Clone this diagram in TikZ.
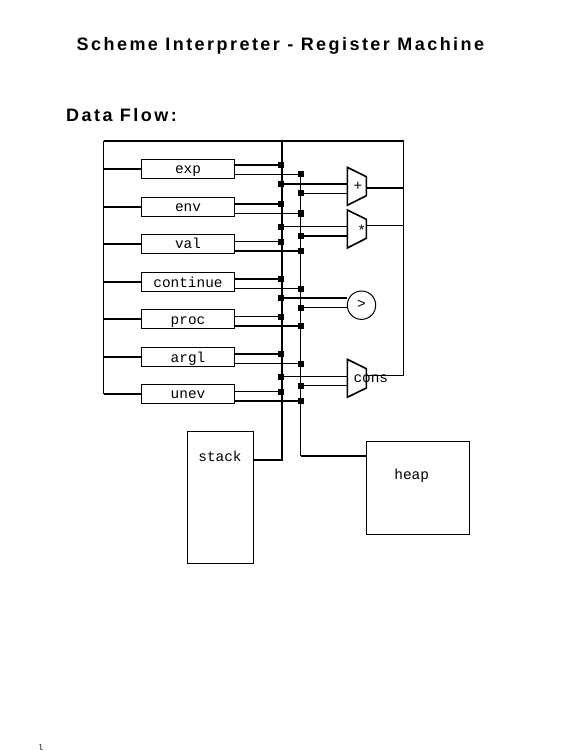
\documentclass[tikz,border=0pt]{standalone}
\usepackage{fontspec}
\usetikzlibrary{positioning,calc}
\setmonofont{Liberation Mono}
\newfontfamily\titlefont[LetterSpace=13.6]{Liberation Sans}

\begin{document}
\begin{tikzpicture}[x=1pt,y=-1pt,
    thinwire/.style={line width=1pt},
    thickwire/.style={line width=2.2pt},
    heading/.style={font=\titlefont\bfseries\fontsize{18}{20}\selectfont, inner sep=0pt},
    regbox/.style={draw, line width=1pt, minimum width=93.4pt, minimum height=19pt, inner sep=0pt, text height=10pt, text depth=0pt, font=\ttfamily\fontsize{14.4}{16}\selectfont},
    membox/.style={draw, line width=1pt, inner sep=0pt},
    oplabel/.style={inner sep=0pt, font=\ttfamily\fontsize{14.4}{16}\selectfont},
    mux/.style={line width=1.6pt, line join=miter},
    joint/.style={fill=black, inner sep=0pt, minimum size=6pt}]
    \useasboundingbox (0,0) rectangle (564,751);

    \node[heading, anchor=base west] (title) at (76.5,51) {Scheme Interpreter - Register Machine};
    \node[heading, anchor=base west] (flow) at (66,122) {Data Flow:};
    \node[inner sep=0pt, anchor=base, font=\ttfamily\fontsize{8}{9}\selectfont] (pagemark) at (40.7,750) {l};

    \node[regbox] (exp) at (188,168.8) {exp};
    \node[regbox] (env) at (188,206.8) {env};
    \node[regbox] (val) at (188,243.9) {val};
    \node[regbox] (continue) at (188,282) {continue};
    \node[regbox] (proc) at (188,319) {proc};
    \node[regbox] (argl) at (188,357) {argl};
    \node[regbox] (unev) at (188,393.8) {unev};

    \node[membox, minimum width=66pt, minimum height=131.6pt] (stack) at (220.3,497.5) {};
    \node[oplabel] (stacktext) at (220,456) {stack};
    \node[membox, minimum width=103pt, minimum height=93pt] (heap) at (417.8,487.8) {};
    \node[oplabel] (heaptext) at (411.7,475.5) {heap};

    \coordinate (railNW) at (103.5,141);
    \coordinate (railSW) at (103.5,394);
    \coordinate (railNE) at (403.5,141);
    \coordinate (railSE) at (403.5,375.5);
    \coordinate (busAtop) at (282,141);
    \coordinate (busAend) at (282,460);
    \coordinate (busBend) at (300.5,456);

    \coordinate (addin) at (347.3,186.5);
    \coordinate (addout) at (366.3,188);
    \coordinate (mulin) at (347.3,229);
    \coordinate (mulout) at (366.3,225.5);
    \coordinate (consin) at (347.3,378);
    \coordinate (consout) at (366.3,375.5);

    \node[joint] (expA) at (281,164.7) {};
    \node[joint] (expB) at (301,174.5) {};
    \node[joint] (addA) at (281,183.7) {};
    \node[joint] (addB) at (301,193.5) {};
    \node[joint] (envA) at (281,204) {};
    \node[joint] (envB) at (301,213.5) {};
    \node[joint] (mulA) at (281,226.5) {};
    \node[joint] (mulB) at (301,235.7) {};
    \node[joint] (valA) at (281,241.5) {};
    \node[joint] (valB) at (301,250.7) {};
    \node[joint] (contA) at (281,279.3) {};
    \node[joint] (contB) at (301,288.5) {};
    \node[joint] (gtA) at (281,298) {};
    \node[joint] (gtB) at (301,307.5) {};
    \node[joint] (procA) at (281,316.5) {};
    \node[joint] (procB) at (301,326) {};
    \node[joint] (arglA) at (281,354.3) {};
    \node[joint] (arglB) at (301,363.5) {};
    \node[joint] (consA) at (281,376.5) {};
    \node[joint] (consB) at (301,385.5) {};
    \node[joint] (unevA) at (281,391.5) {};
    \node[joint] (unevB) at (301,401) {};

    \draw[thickwire] (railNW) -- (railNE);
    \draw[thinwire] (railNW) -- (railSW);
    \draw[thinwire] (railNE) -- (railSE) -- (consout);
    \draw[thickwire] (busAtop) -- (busAend) -- (stack.east |- busAend);
    \draw[thinwire] (busBend |- expB) -- (busBend);
    \draw[thickwire] (busBend) -- (heap.west |- busBend);

    \draw[thickwire] (railNW |- exp) -- (exp);
    \draw[thickwire] (railNW |- env) -- (env);
    \draw[thickwire] (railNW |- val) -- (val);
    \draw[thickwire] (railNW |- continue) -- (continue);
    \draw[thickwire] (railNW |- proc) -- (proc);
    \draw[thickwire] (railNW |- argl) -- (argl);
    \draw[thickwire] (railNW |- unev) -- (unev);

    \draw[thickwire] (exp.east |- expA) -- (expA);
    \draw[thinwire] (exp.east |- expB) -- (expB);
    \draw[thickwire] (env.east |- envA) -- (envA);
    \draw[thinwire] (env.east |- envB) -- (envB);
    \draw[thinwire] (val.east |- valA) -- (valA);
    \draw[thickwire] (val.east |- valB) -- (valB);
    \draw[thickwire] (continue.east |- contA) -- (contA);
    \draw[thinwire] (continue.east |- contB) -- (contB);
    \draw[thinwire] (proc.east |- procA) -- (procA);
    \draw[thickwire] (proc.east |- procB) -- (procB);
    \draw[thickwire] (argl.east |- arglA) -- (arglA);
    \draw[thinwire] (argl.east |- arglB) -- (arglB);
    \draw[thinwire] (unev.east |- unevA) -- (unevA);
    \draw[thickwire] (unev.east |- unevB) -- (unevB);

    \draw[thickwire] (addA) -- (addA -| addin);
    \draw[thinwire] (addB) -- (addB -| addin);
    \draw[thinwire] (mulA) -- (mulA -| mulin);
    \draw[thickwire] (mulB) -- (mulB -| mulin);
    \draw[thinwire] (consA) -- (consA -| consin);
    \draw[thinwire] (consB) -- (consB -| consin);

    \draw[thickwire] (addout) -- (addout -| railNE);
    \draw[thinwire] (mulout) -- (mulout -| railNE);

    \draw[mux] (347.3,167.3) -- (366.3,176.7) -- (366.3,195.7) -- (347.3,205.3) -- cycle;
    \draw[mux] (347.3,210) -- (366.3,219.3) -- (366.3,238.3) -- (347.3,248) -- cycle;
    \draw[mux] (347.3,359.3) -- (366.3,368.7) -- (366.3,388) -- (347.3,397.3) -- cycle;

    \node[draw, circle, line width=1pt, minimum size=28.4pt, inner sep=0pt] (gt) at (361.5,305.2) {};
    \draw[thickwire] (gtA) -- (gtA -| gt.west);
    \draw[thinwire] (gtB) -- (gt.west |- gtB);

    \node[oplabel] (addtext) at (358,186.5) {+};
    \node[oplabel] (multext) at (361.7,230) {*};
    \node[oplabel] (gttext) at (361.5,304) {>};
    \node[oplabel] (constext) at (370.8,378.5) {cons};
  \end{tikzpicture}
\end{document}
